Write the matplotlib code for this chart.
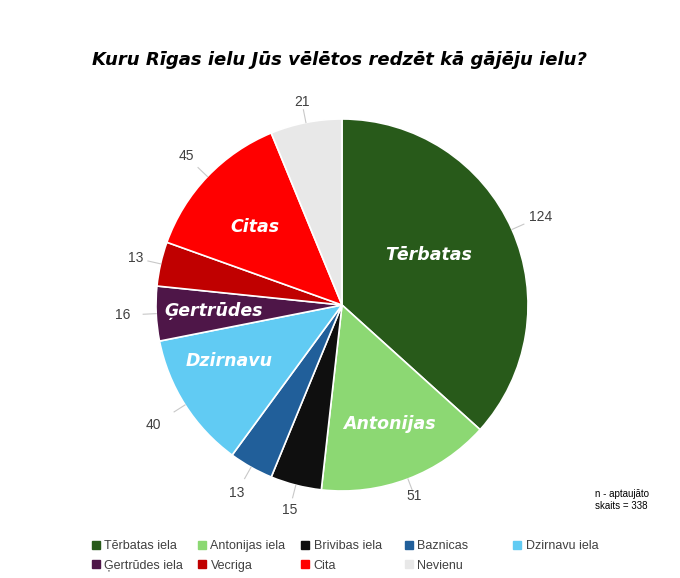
import matplotlib
matplotlib.use("Agg")
import matplotlib.pyplot as plt
from matplotlib.lines import Line2D
from matplotlib.legend import Legend
import numpy as np

categories = ["Tērbatas iela", "Antonijas iela", "Brivibas iela", "Baznicas",
              "Dzirnavu iela", "Ģertrūdes iela", "Vecriga", "Cita", "Nevienu"]
values = [124, 51, 15, 13, 40, 16, 13, 45, 21]
inner_labels = ["Tērbatas", "Antonijas", "", "", "Dzirnavu", "Ģertrūdes", "", "Citas", ""]
colors = ["#285A1A", "#8CD873", "#0F0F0F", "#215F9A", "#61CBF3",
          "#4E1648", "#C00000", "#FF0000", "#E8E8E8"]
title = "Kuru Rīgas ielu Jūs vēlētos redzēt kā gājēju ielu?"
note = "n - aptaujāto\nskaits = 338"

W, H = 680, 578
fig = plt.figure(figsize=(W / 100, H / 100), dpi=100)
cx, cy, R = 342, 305, 186
span = 1.5
side = 2 * span * R
ax = fig.add_axes([(cx - side / 2) / W, (H - cy - side / 2) / H, side / W, side / H])

wedges, _ = ax.pie(values, colors=colors, startangle=90, counterclock=False,
                   radius=1.0, wedgeprops=dict(edgecolor="white", linewidth=1.2))
ax.set_xlim(-span, span)
ax.set_ylim(-span, span)
ax.set_aspect("equal")
ax.axis("off")

inner_pos = {"Tērbatas": (0.54, 6), "Antonijas": (0.69, 1), "Dzirnavu": (0.68, -6),
             "Ģertrūdes": (0.69, 0), "Citas": (0.63, 2)}
outer_r = [1.17, 1.10, 1.14, 1.16, 1.20, 1.18, 1.14, 1.16, 1.11]

for w, v, lab, ro in zip(wedges, values, inner_labels, outer_r):
    midd = (w.theta1 + w.theta2) / 2
    mid = np.deg2rad(midd)
    c, s = np.cos(mid), np.sin(mid)
    ax.plot([1.0 * c, 1.07 * c], [1.0 * s, 1.07 * s], color="#C8C8C8", lw=0.8)
    ax.text(ro * c, ro * s, str(v), ha="center", va="center", fontsize=10,
            color="#404040", family="Liberation Sans")
    if lab:
        ri, da = inner_pos[lab]
        a = np.deg2rad(midd + da)
        ax.text(ri * np.cos(a), ri * np.sin(a), lab, ha="center", va="center",
                fontsize=12.5, color="white", fontweight="bold",
                fontstyle="italic", family="DejaVu Sans")

fig.text(0.5, 1 - 60 / H, title, ha="center", va="center", fontsize=13,
         fontweight="bold", fontstyle="italic", family="DejaVu Sans", color="black")

fig.text(595 / W, 1 - 500 / H, note, ha="left", va="center", fontsize=7,
         family="Liberation Sans", color="black", linespacing=1.25)

# legend: five columns, filled row by row
handles = [Line2D([0], [0], marker="s", linestyle="none", markersize=5.5,
                  markerfacecolor=col, markeredgecolor=col) for col in colors]
ncol = 5
col_x = [92, 198, 301, 405, 513]
for j in range(ncol):
    idx = [i for i in range(len(categories)) if i % ncol == j]
    leg = Legend(fig, [handles[i] for i in idx], [categories[i] for i in idx],
                 loc="upper left", bbox_to_anchor=(col_x[j] / W, 1 - 540 / H),
                 frameon=False, handlelength=0.6, handletextpad=0.4,
                 labelspacing=0.62, borderpad=0, borderaxespad=0,
                 prop=dict(family="Liberation Sans", size=9))
    for t in leg.get_texts():
        t.set_color("#404040")
    fig.add_artist(leg)

fig.savefig("out.png", dpi=100, facecolor="white")
